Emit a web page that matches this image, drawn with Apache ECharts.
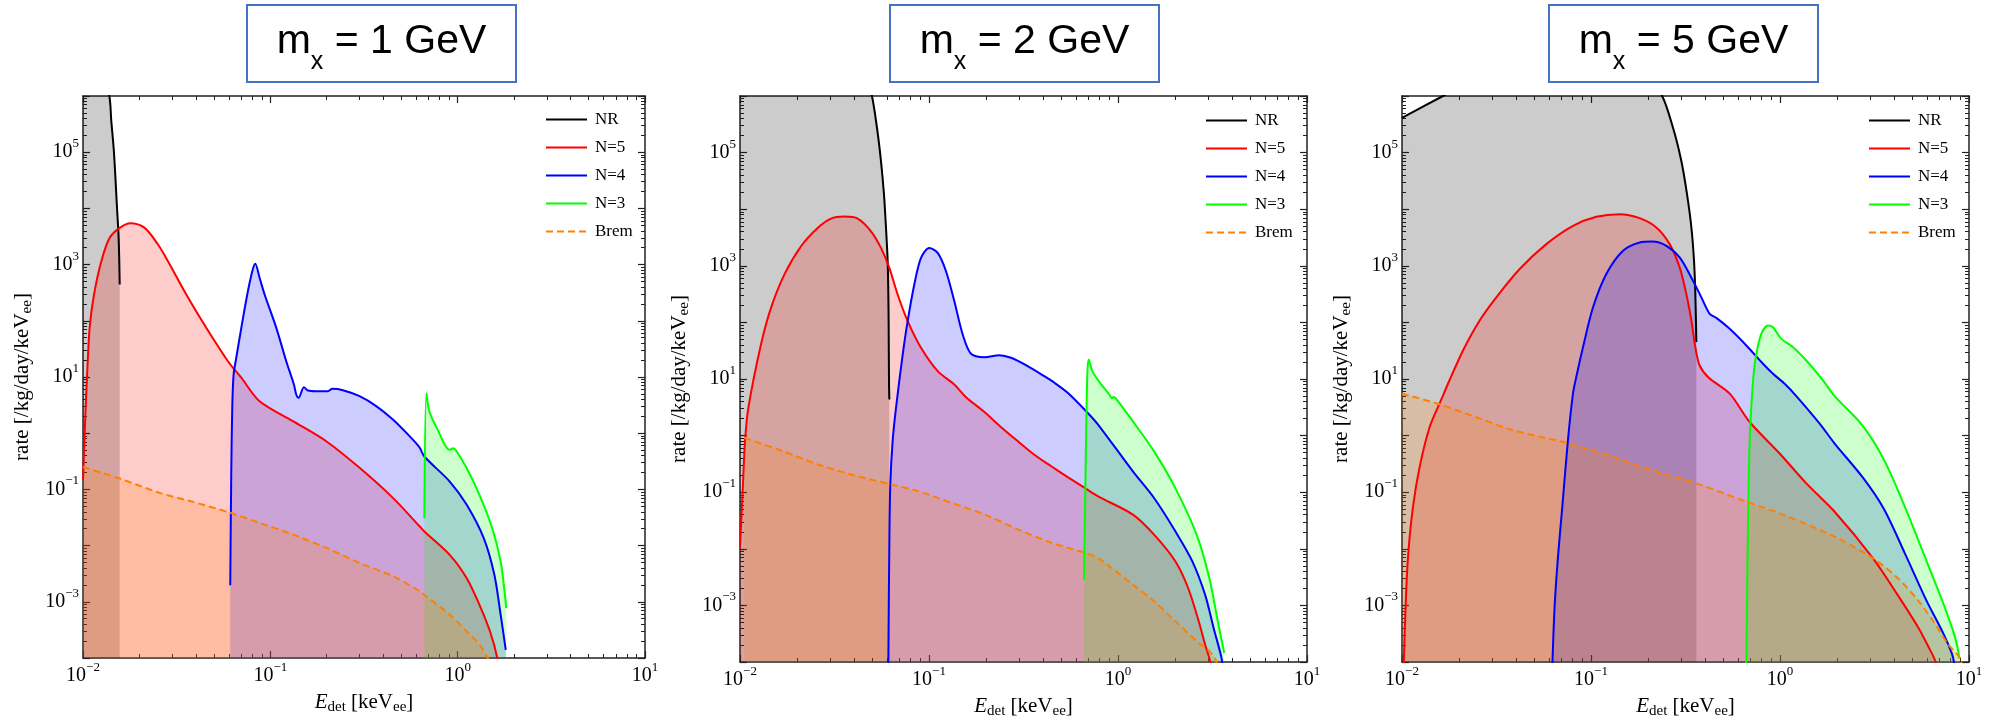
<!DOCTYPE html>
<html>
<head>
<meta charset="utf-8">
<script src="https://cdn.jsdelivr.net/npm/echarts@6/dist/echarts.min.js"></script>
<style>html,body{margin:0;padding:0;background:#fff}#c{width:1998px;height:724px}</style>
</head>
<body>
<div id="c"></div>
<script>
// ---------------- data ----------------
const panelMasses = ['1', '2', '5'];
const seriesNames = ['NR', 'N=5', 'N=4', 'N=3', 'Brem'];
const xTickExponents = [-2, -1, 0, 1];
const yLabelExponents = [-3, -1, 1, 3, 5];
const xRange = [0.01, 10];
const yRange = [1e-4, 999990];

// m_x = 1 GeV
const p1NR_E = [0.0100, 0.0120, 0.01377, 0.01416, 0.01463, 0.01519, 0.0155, 0.0157];
const p1NR_R = [3e7, 4e6, 1.07e6, 3.56e5, 1.0e5, 1.02e4, 2990, 443];
const p1N5_E = [0.0100, 0.01033, 0.01050, 0.01085, 0.01145, 0.01253, 0.01388, 0.01570, 0.01790, 0.02133, 0.02513, 0.02842, 0.03559, 0.04549, 0.05939, 0.06999, 0.0876, 0.1320, 0.1988, 0.2995, 0.4510, 0.6258, 0.664, 0.907, 1.118, 1.307, 1.489, 1.628, 1.66];
const p1N5_R = [0.15, 2.8, 9.7, 75, 294, 1151, 2994, 4508, 5457, 4508, 2280, 1151, 294, 75, 19.1, 9.7, 3.7, 1.64, 0.72, 0.242, 0.0707, 0.0221, 0.0178, 0.00686, 0.00263, 0.000885, 0.000296, 1.0e-4, 5e-5];
const p1N4_E = [0.0611, 0.06185, 0.06262, 0.06368, 0.0658, 0.0700, 0.0753, 0.0801, 0.0831, 0.0876, 0.0932, 0.1076, 0.1216, 0.1336, 0.1375, 0.1415, 0.1511, 0.1587, 0.1759, 0.2029, 0.2140, 0.2440, 0.2995, 0.3674, 0.4510, 0.5536, 0.6258, 0.664, 0.907, 1.118, 1.378, 1.570, 1.696, 1.806];
const p1N4_R = [0.00197, 0.184, 2.82, 11.1, 22, 75, 294, 764, 1033, 582, 294, 75, 19.1, 7.36, 4.88, 4.26, 6.59, 5.74, 5.58, 5.58, 6.15, 5.82, 4.55, 3.03, 1.75, 0.885, 0.56, 0.385, 0.138, 0.0532, 0.01355, 0.00302, 0.000589, 0.00014];
const p1N3_E = [0.664, 0.681, 0.706, 0.775, 0.907, 0.946, 0.982, 1.118, 1.307, 1.530, 1.696, 1.788, 1.817];
const p1N3_R = [0.0308, 5.15, 2.43, 1.23, 0.506, 0.541, 0.487, 0.238, 0.080, 0.0204, 0.0052, 0.00133, 0.00077];
const p1Brem_E = [0.0100, 0.0157, 0.02565, 0.03864, 0.0611, 0.0876, 0.1320, 0.1988, 0.2995, 0.451, 0.6258, 0.664, 0.907, 1.118, 1.307, 1.437, 1.47];
const p1Brem_R = [0.25, 0.156, 0.0868, 0.060, 0.0383, 0.0254, 0.01575, 0.00912, 0.00493, 0.00286, 0.00155, 0.00133, 0.00059, 0.000296, 0.000172, 1.06e-4, 8e-5];

// m_x = 2 GeV
const p2NR_E = [0.0100, 0.0300, 0.0450, 0.04973, 0.05308, 0.05572, 0.05779, 0.05922, 0.06044, 0.06093, 0.06118, 0.06144, 0.0617];
const p2NR_R = [1e9, 1e8, 3e6, 1.05e6, 2.72e5, 7.02e4, 1.81e4, 4670, 1205, 311, 80, 8.0, 4.35];
const p2N5_E = [0.0100, 0.01033, 0.01063, 0.01107, 0.01291, 0.01459, 0.01716, 0.02103, 0.02576, 0.03031, 0.03565, 0.04194, 0.04932, 0.05572, 0.06166, 0.06826, 0.07713, 0.0907, 0.1112, 0.136, 0.1582, 0.1938, 0.2375, 0.2945, 0.3607, 0.4419, 0.5418, 0.6638, 0.7806, 1.199, 1.552, 2.011, 2.350, 2.673, 2.889, 3.075, 3.12];
const p2N5_R = [0.0105, 0.105, 0.80, 3.1, 40.7, 181, 700, 2218, 4670, 6825, 7400, 6825, 4075, 2070, 920, 311, 105, 35.6, 13.8, 8.0, 4.66, 2.71, 1.47, 0.80, 0.46, 0.29, 0.185, 0.12, 0.085, 0.0402, 0.0178, 0.00601, 0.00203, 0.000525, 0.000204, 1.02e-4, 6e-5];
const p2N4_E = [0.0609, 0.0617, 0.0624, 0.0642, 0.0669, 0.0726, 0.0771, 0.0836, 0.0907, 0.1004, 0.1112, 0.1230, 0.1362, 0.1508, 0.1668, 0.1963, 0.2356, 0.2716, 0.3327, 0.4075, 0.4603, 0.5418, 0.677, 0.7806, 1.199, 1.552, 2.011, 2.474, 2.889, 3.205, 3.461, 3.555, 3.58];
const p2N4_R = [8e-5, 0.0137, 0.137, 0.80, 3.1, 27.1, 105, 467, 1380, 2070, 1690, 802, 237, 61, 27.9, 24.3, 26.4, 23.7, 16.9, 11.2, 8.6, 5.7, 2.71, 1.6, 0.233, 0.0789, 0.0204, 0.00601, 0.00155, 0.0004, 1.55e-4, 1.02e-4, 6e-5];
const p2N3_E = [0.661, 0.679, 0.689, 0.700, 0.733, 0.792, 0.902, 0.925, 0.947, 0.975, 1.199, 1.552, 2.011, 2.606, 3.042, 3.373, 3.647];
const p2N3_R = [0.00286, 1.36, 13.6, 22, 13.6, 9.06, 5.27, 4.59, 4.8, 4.48, 1.78, 0.526, 0.118, 0.0178, 0.00305, 0.000525, 1.45e-4];
const p2Brem_E = [0.01054, 0.01716, 0.02576, 0.03867, 0.0624, 0.0871, 0.1307, 0.1963, 0.2945, 0.4419, 0.6638, 0.7806, 0.925, 1.199, 1.552, 2.011, 2.606, 3.042, 3.284, 3.35];
const p2Brem_R = [0.916, 0.519, 0.31, 0.206, 0.138, 0.105, 0.0653, 0.0406, 0.0221, 0.01285, 0.00855, 0.00698, 0.00458, 0.00233, 0.00118, 0.000525, 0.000233, 1.55e-4, 1.1e-4, 8e-5];

// m_x = 5 GeV
const p3NR_E = [0.0100, 0.01648, 0.0200, 0.05, 0.15, 0.2355, 0.2716, 0.3006, 0.3221, 0.3397, 0.3508, 0.3565, 0.3609];
const p3NR_R = [4.12e5, 1.0e6, 1.41e6, 1e7, 1e7, 1.07e6, 2.75e5, 7.1e4, 1.84e4, 4750, 1230, 318, 44.8];
const p3N5_E = [0.0102, 0.01045, 0.01076, 0.01143, 0.0124, 0.01401, 0.01615, 0.01751, 0.02103, 0.02576, 0.03155, 0.04194, 0.05802, 0.08034, 0.1067, 0.1418, 0.1809, 0.2216, 0.2607, 0.2945, 0.3194, 0.3397, 0.3565, 0.3758, 0.42, 0.5418, 0.6910, 0.9959, 1.378, 1.946, 3.113, 4.14, 5.36, 6.10, 6.66, 6.8];
const p3N5_R = [8e-5, 0.00096, 0.00728, 0.0553, 0.28, 1.42, 4.35, 8.24, 31.9, 108, 277, 877, 2415, 5085, 7330, 8170, 6940, 4750, 2415, 937, 318, 108, 36.5, 17.3, 10.5, 5.5, 1.74, 0.482, 0.143, 0.0452, 0.00672, 0.00163, 0.000419, 0.000186, 1.0e-4, 6e-5];
const p3N4_E = [0.0624, 0.0642, 0.0669, 0.0705, 0.0755, 0.0803, 0.0843, 0.0907, 0.1025, 0.1205, 0.1477, 0.1809, 0.2111, 0.2504, 0.2945, 0.3464, 0.3836, 0.4245, 0.4603, 0.5418, 0.6638, 0.8129, 0.918, 1.0585, 1.22, 1.621, 1.946, 2.735, 3.541, 4.585, 5.94, 7.31, 8.11, 8.32, 8.4];
const p3N4_R = [8e-5, 0.00096, 0.00728, 0.0553, 0.828, 5.5, 12.4, 36.5, 185, 716, 1845, 2588, 2692, 2258, 1406, 546, 277, 141, 120, 76.9, 39.1, 18.6, 12.4, 8.24, 5.0, 1.63, 0.724, 0.184, 0.051, 0.00824, 0.00124, 0.00032, 0.000142, 1.0e-4, 6e-5];
const p3N3_E = [0.6638, 0.672, 0.680, 0.691, 0.705, 0.7256, 0.7496, 0.7966, 0.8639, 0.918, 1.0165, 1.172, 1.378, 1.688, 1.946, 2.735, 3.541, 4.585, 5.94, 7.31, 8.32, 8.75, 8.89];
const p3N3_R = [8e-5, 0.00371, 0.0727, 0.83, 3.21, 12.4, 27.9, 62.7, 87.9, 82.2, 51.2, 36.5, 21.2, 9.44, 5.0, 1.5, 0.38, 0.0546, 0.00627, 0.00108, 0.00032, 0.000163, 1.16e-4];
const p3Brem_E = [0.0100, 0.01582, 0.02576, 0.03867, 0.07405, 0.1307, 0.1963, 0.3609, 0.6638, 0.996, 1.946, 3.113, 4.14, 5.36, 6.59, 7.69, 8.99, 9.2];
const p3Brem_R = [5.5, 3.57, 2.0, 1.24, 0.743, 0.421, 0.262, 0.143, 0.0679, 0.0423, 0.0164, 0.00672, 0.00318, 0.00124, 0.00048, 0.000213, 1.16e-4, 8e-5];

const panelData = [
  { E: [p1NR_E, p1N5_E, p1N4_E, p1N3_E, p1Brem_E], R: [p1NR_R, p1N5_R, p1N4_R, p1N3_R, p1Brem_R] },
  { E: [p2NR_E, p2N5_E, p2N4_E, p2N3_E, p2Brem_E], R: [p2NR_R, p2N5_R, p2N4_R, p2N3_R, p2Brem_R] },
  { E: [p3NR_E, p3N5_E, p3N4_E, p3N3_E, p3Brem_E], R: [p3NR_R, p3N5_R, p3N4_R, p3N3_R, p3Brem_R] }
];

// ---------------- layout & style ----------------
const SERIF = '"Liberation Serif", "DejaVu Serif", serif';
const SANS = '"Liberation Sans", Arial, sans-serif';
const gridBoxes = [
  { left: 83, top: 96, width: 562, height: 562 },
  { left: 740, top: 96, width: 567, height: 567 },
  { left: 1402, top: 96, width: 567, height: 568 }
];
const legendPos = [{ left: 545, top: 111 }, { left: 1205, top: 112 }, { left: 1868, top: 112 }];
const titleBoxes = [{ x: 247, w: 269 }, { x: 890, w: 269 }, { x: 1549, w: 269 }];
const lineColors = ['#000000', '#ff0000', '#0000ff', '#00ff00', '#ff8000'];
const fillColors = ['rgba(0,0,0,0.2)', 'rgba(255,0,0,0.2)', 'rgba(0,0,255,0.2)', 'rgba(0,255,0,0.2)', 'rgba(255,128,0,0.2)'];
const AXIS_COLOR = '#222';
const SMOOTH = 0.3;

function zip(E, R) { return E.map((e, i) => [e, R[i]]); }
function expOf(v) { return Math.round(Math.log10(v)); }
function supLabel(e) { return '{b|10}{s|' + (e < 0 ? '\u2212' + (-e) : String(e)) + '}'; }

const tickRich = {
  b: { fontFamily: SERIF, fontSize: 20, color: '#000', lineHeight: 30, verticalAlign: 'middle' },
  s: { fontFamily: SERIF, fontSize: 13, color: '#000', lineHeight: 13, verticalAlign: 'top' }
};
const nameRich = {
  i: { fontFamily: SERIF, fontStyle: 'italic', fontSize: 21, lineHeight: 26, verticalAlign: 'middle', color: '#000' },
  n: { fontFamily: SERIF, fontSize: 21, lineHeight: 26, verticalAlign: 'middle', color: '#000' },
  sub: { fontFamily: SERIF, fontSize: 15, lineHeight: 10, verticalAlign: 'bottom', color: '#000' }
};

function makeXAxis(gi, pos) {
  const bottom = pos === 'bottom';
  return {
    type: 'log', logBase: 10, gridIndex: gi, position: pos,
    min: xRange[0], max: xRange[1],
    axisLine: { show: true, onZero: false, lineStyle: { color: AXIS_COLOR, width: 1.5 } },
    axisTick: { show: true, inside: true, length: 7, lineStyle: { color: AXIS_COLOR, width: 1.2 } },
    minorTick: { show: true, splitNumber: 9, length: 4, lineStyle: { color: AXIS_COLOR, width: 1 } },
    splitLine: { show: false }, minorSplitLine: { show: false },
    axisLabel: bottom ? {
      show: true, margin: 3, showMinLabel: true, showMaxLabel: true,
      formatter: v => { const e = expOf(v); return xTickExponents.includes(e) ? supLabel(e) : ''; },
      rich: tickRich
    } : { show: false },
    name: bottom ? '{i|E}{sub|det}{n| [keV}{sub|ee}{n|]}' : '',
    nameLocation: 'middle', nameGap: 31,
    nameTextStyle: { rich: nameRich }
  };
}
function makeYAxis(gi, pos) {
  const left = pos === 'left';
  return {
    type: 'log', logBase: 10, gridIndex: gi, position: pos,
    min: yRange[0], max: yRange[1], splitNumber: 10,
    axisLine: { show: true, onZero: false, lineStyle: { color: AXIS_COLOR, width: 1.5 } },
    axisTick: { show: true, inside: true, length: 7, lineStyle: { color: AXIS_COLOR, width: 1.2 } },
    minorTick: { show: true, splitNumber: 9, length: 4, lineStyle: { color: AXIS_COLOR, width: 1 } },
    splitLine: { show: false }, minorSplitLine: { show: false },
    axisLabel: left ? {
      show: true, margin: 4,
      formatter: v => { const e = expOf(v); return yLabelExponents.includes(e) ? supLabel(e) : ''; },
      rich: tickRich
    } : { show: false },
    name: left ? '{n|rate [/kg/day/keV}{sub|ee}{n|]}' : '',
    nameLocation: 'middle', nameRotate: 90, nameGap: 48,
    nameTextStyle: { rich: nameRich }
  };
}

const grid = [], xAxis = [], yAxis = [], series = [], legend = [], graphic = [];
panelData.forEach((pd, p) => {
  grid.push(Object.assign({ containLabel: false }, gridBoxes[p]));
  xAxis.push(makeXAxis(p, 'bottom'), makeXAxis(p, 'top'));
  yAxis.push(makeYAxis(p, 'left'), makeYAxis(p, 'right'));
  // fills first
  seriesNames.forEach((nm, k) => {
    series.push({
      type: 'line', name: nm + ' fill', xAxisIndex: 2 * p, yAxisIndex: 2 * p,
      data: zip(pd.E[k], pd.R[k]), symbol: 'none', smooth: SMOOTH,
      lineStyle: { width: 0, opacity: 0 },
      areaStyle: { color: fillColors[k], origin: 'start', opacity: 1 },
      silent: true, clip: true, z: 2
    });
  });
  // lines on top
  seriesNames.forEach((nm, k) => {
    series.push({
      type: 'line', name: nm, xAxisIndex: 2 * p, yAxisIndex: 2 * p,
      data: zip(pd.E[k], pd.R[k]), symbol: 'none', smooth: SMOOTH,
      lineStyle: { width: 2, color: lineColors[k], type: nm === 'Brem' ? [7, 4] : 'solid' },
      itemStyle: { color: lineColors[k] },
      silent: true, clip: true, z: 3
    });
  });
  legend.push({
    data: seriesNames, orient: 'vertical', left: legendPos[p].left, top: legendPos[p].top,
    itemWidth: 41, itemHeight: 14, itemGap: 11, selectedMode: false, padding: 0,
    itemStyle: { opacity: 0 },
    textStyle: { fontFamily: SERIF, fontSize: 17, color: '#000', lineHeight: 14, padding: [0, 0, 0, 3] }
  });
  const tb = titleBoxes[p];
  graphic.push({
    type: 'rect', shape: { x: tb.x, y: 5, width: tb.w, height: 77 },
    style: { fill: '#fff', stroke: '#4472C4', lineWidth: 2 }, silent: true
  });
  graphic.push({
    type: 'text', x: tb.x + tb.w / 2, y: 42,
    style: {
      text: '{m|m}{x|x}{m| = ' + panelMasses[p] + ' GeV}',
      align: 'center', verticalAlign: 'middle',
      rich: {
        m: { fontFamily: SANS, fontSize: 41, lineHeight: 66, verticalAlign: 'middle', fill: '#000' },
        x: { fontFamily: SANS, fontSize: 25, lineHeight: 25, verticalAlign: 'bottom', fill: '#000' }
      }
    }, silent: true
  });
});

const chart = echarts.init(document.getElementById('c'), null, { renderer: 'canvas' });
chart.setOption({
  animation: false,
  backgroundColor: '#fff',
  grid, xAxis, yAxis, series, legend, graphic
});
</script>
</body>
</html>
